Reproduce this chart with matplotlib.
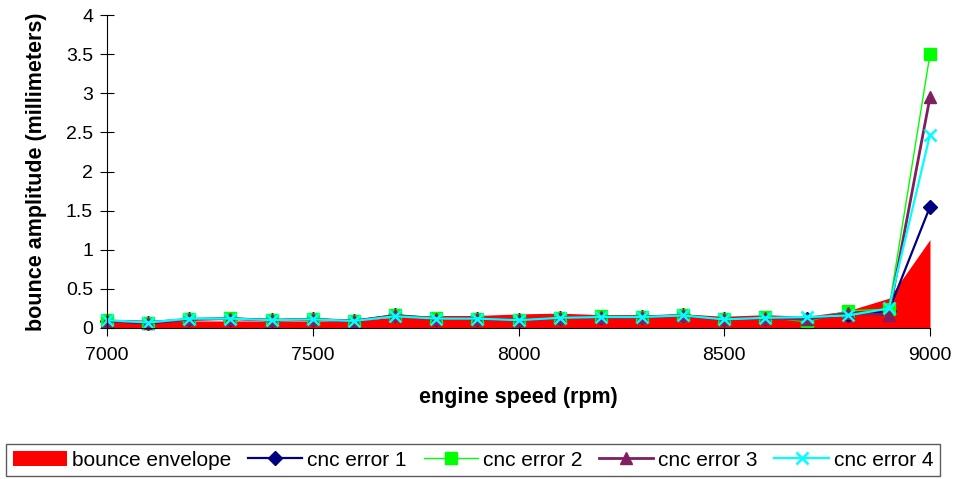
import numpy as np
import matplotlib
matplotlib.use("Agg")
import matplotlib.pyplot as plt
from matplotlib.ticker import FormatStrFormatter

plt.rcParams['font.family'] = ['Liberation Sans', 'DejaVu Sans']

rpm = [7000, 7100, 7200, 7300, 7400, 7500, 7600, 7700, 7800, 7900, 8000,
       8100, 8200, 8300, 8400, 8500, 8600, 8700, 8800, 8900, 9000]

envelope = [0.11, 0.10, 0.09, 0.09, 0.09, 0.09, 0.09, 0.14, 0.16, 0.16, 0.18,
            0.19, 0.17, 0.17, 0.18, 0.15, 0.17, 0.15, 0.22, 0.38, 1.13]
cnc1 = [0.09, 0.06, 0.11, 0.12, 0.10, 0.11, 0.09, 0.16, 0.12, 0.12, 0.10,
        0.13, 0.14, 0.14, 0.16, 0.11, 0.13, 0.12, 0.17, 0.22, 1.55]
cnc2 = [0.10, 0.07, 0.12, 0.13, 0.10, 0.12, 0.09, 0.17, 0.13, 0.12, 0.10,
        0.13, 0.15, 0.14, 0.17, 0.11, 0.14, 0.08, 0.22, 0.24, 3.50]
cnc3 = [0.09, 0.07, 0.11, 0.12, 0.10, 0.11, 0.09, 0.16, 0.12, 0.12, 0.10,
        0.13, 0.14, 0.14, 0.16, 0.11, 0.13, 0.11, 0.19, 0.17, 2.95]
cnc4 = [0.10, 0.07, 0.12, 0.12, 0.10, 0.11, 0.09, 0.15, 0.12, 0.12, 0.10,
        0.13, 0.14, 0.14, 0.16, 0.11, 0.13, 0.14, 0.16, 0.25, 2.47]

fig = plt.figure(figsize=(9.59, 4.79), dpi=100)
ax = fig.add_axes([107/959, 1 - 328/479, (930 - 107)/959, (328 - 15)/479])

ax.fill_between(rpm, envelope, 0, color='#FF0000', lw=0, label='bounce envelope')
ax.plot(rpm, cnc1, color='#000080', lw=1.6, marker='D', ms=7.5,
        label='cnc error 1', clip_on=False)
ax.plot(rpm, cnc2, color='#00FF00', lw=1.0, marker='s', ms=9,
        label='cnc error 2', clip_on=False)
ax.plot(rpm, cnc3, color='#7F1F5F', lw=2.0, marker='^', ms=9,
        label='cnc error 3', clip_on=False)
ax.plot(rpm, cnc4, color='#00FFFF', lw=1.6, marker='x', ms=9, mew=1.8,
        label='cnc error 4', clip_on=False)

ax.set_xlim(7000, 9000)
ax.set_ylim(0, 4)
ax.set_xticks([7000, 7500, 8000, 8500, 9000])
ax.set_yticks(np.arange(0, 4.01, 0.5))
ax.yaxis.set_major_formatter(FormatStrFormatter('%g'))
ax.spines['top'].set_visible(False)
ax.spines['right'].set_visible(False)
ax.tick_params(axis='y', direction='inout', length=10, labelsize=14, pad=5)
ax.tick_params(axis='x', direction='out', length=6, labelsize=14, pad=8)

ax.set_xlabel('engine speed (rpm)', fontsize=15.5, fontweight='bold', labelpad=16)
ax.set_ylabel('bounce amplitude (millimeters)', fontsize=15.5, fontweight='bold',
              labelpad=14)

leg = fig.legend(loc='center', bbox_to_anchor=(473/959, 1 - 460/479), ncol=5,
                 fontsize=15, frameon=True, fancybox=False, edgecolor='#333333',
                 handlelength=2.6, handletextpad=0.25, columnspacing=0.8,
                 borderpad=0.3)
leg.get_frame().set_linewidth(1.0)

fig.savefig('out.png', dpi=100)
